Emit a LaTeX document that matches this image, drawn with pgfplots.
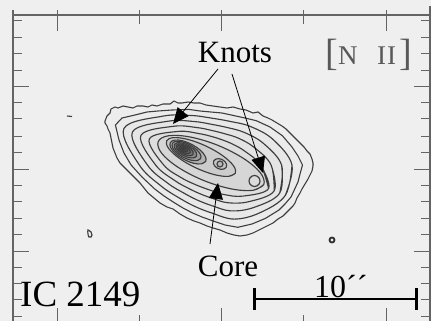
\documentclass[border=0pt]{standalone}
\usepackage{pgfplots}
\pgfplotsset{compat=1.18}
\usetikzlibrary{arrows.meta}
\usepackage{fontspec}
\setmainfont{Liberation Serif}
\definecolor{bg}{RGB}{239,239,239}
\definecolor{cl}{RGB}{62,62,62}
\definecolor{fr}{RGB}{100,100,100}
\pgfplotsset{cont/.style={smooth, tension=0.6, draw=cl, line width=1.15pt}}
\begin{document}
\begin{tikzpicture}[x=1pt,y=1pt]
\fill[bg] (0,0) rectangle (431,321);
\useasboundingbox (0,0) rectangle (431,321);
\begin{axis}[
  at={(13,3)}, anchor=south west,
  scale only axis, width=417pt, height=309pt,
  xmin=13, xmax=430, ymin=9, ymax=318, y dir=reverse,
  clip=false,
  axis line style={draw=fr, line width=1.1pt},
  tick align=inside,
  xtick={57,221,386}, minor xtick={139,303},
  ytick={81,163,245},
  minor ytick={15,32,48,65,97,113,130,146,179,195,212,228,261,277,293,310},
  xticklabels={}, yticklabels={},
  major tick length=16pt, minor tick length=9pt,
  every tick/.style={draw=fr, line width=1pt},
]
% frame overshoots at top
\addplot[draw=fr, line width=1pt] coordinates {(57,4) (57,9)};
\addplot[draw=fr, line width=1pt] coordinates {(139,4) (139,9)};
\addplot[draw=fr, line width=1pt] coordinates {(221,4) (221,9)};
\addplot[draw=fr, line width=1pt] coordinates {(303,4) (303,9)};
\addplot[draw=fr, line width=1pt] coordinates {(386,4) (386,9)};
\addplot[draw=fr, line width=1.1pt] coordinates {(13,4) (13,9)};
\addplot[draw=fr, line width=1.1pt] coordinates {(430,0) (430,9)};

% outermost contour (jagged)
\addplot[draw=cl, line width=1.1pt, fill=black!7] coordinates {
(105,115) (107,110) (110,107) (111,103) (115,101) (118,102) (123,100) (128,101)
(133,102) (137,100) (143,100) (148,101) (152,99) (157,100) (163,98) (170,98)
(174,95) (178,97) (182,97) (188,96) (194,97) (200,97) (206,99) (213,100)
(220,101) (227,102) (233,101) (240,103) (246,104) (253,107) (258,106) (263,110)
(268,112) (272,114) (277,117) (282,120) (286,123) (290,127) (294,131) (297,134)
(300,137) (304,141) (307,145) (310,148) (312,153) (313,157) (313,160) (312,165)
(310,169) (308,173) (305,178) (302,183) (300,187) (297,192) (295,197) (293,200)
(289,204) (286,207) (283,210) (278,213) (273,217) (267,220) (261,223) (257,225)
(253,227) (247,229) (240,230) (234,229) (227,227) (220,224) (213,222) (207,220)
(200,217) (194,215) (187,212) (180,208) (173,203) (167,201) (160,197) (154,192)
(148,187) (144,182) (140,177) (135,172) (130,167) (125,162) (120,157) (117,152)
(115,147) (113,142) (112,137) (111,132) (110,127) (108,123) (107,120) (105,117)
(105,115)};

% O2 (slightly jagged)
\addplot[draw=cl, line width=1.1pt, fill=black!8] coordinates {
(302.5,159) (300,168) (298,176) (291,191) (285,198) (279,204) (265.4,212.4) (252,218)
(237.8,221.3) (225,219) (212,214.6) (202,211) (192.2,206.8) (183,202) (174.3,196.7)
(164,190) (154.5,182.8) (142,171) (131.1,159) (124,147) (119,134) (115.4,119)
(122,112) (135,109) (147,106) (158,105) (172,104) (188.9,103.4) (200,105) (212,106.1)
(222,107) (232.6,109.3) (245,112) (256.3,114.7) (270,121) (282.5,129.8) (292,141)
(298,150) (302.5,159)};
% O3
\addplot[cont, fill=black!9] coordinates {
(292,159) (285.3,189.4) (259.8,206.8) (234.4,213.1) (212,207.1) (194.8,200.4)
(179.1,191.9) (161.2,180.1) (139.3,159) (123.9,122.5) (163.1,110.1) (191.5,109.5)
(212,112.2) (230.1,115.4) (250.5,120.5) (273.2,133.6) (292,159) (285.3,189.4)};
% O4
\addplot[cont, fill=black!10] coordinates {
(281.6,159) (279.7,187.1) (254.3,201.3) (231,204.9) (212,199.7) (197.4,194.1)
(183.9,187.1) (167.9,177.3) (147.4,159) (132.4,126) (168.2,115.2) (194,115.5)
(212,118.4) (227.5,121.6) (244.5,126.5) (263.7,137.6) (281.6,159) (279.7,187.1)};
% O5
\addplot[cont, fill=black!11] coordinates {
(271.1,159) (274.2,184.8) (248.7,195.7) (227.6,196.7) (212,192.2) (200.1,187.8)
(188.6,182.4) (174.7,174.5) (155.6,159) (140.9,129.5) (173.3,120.3) (196.5,121.5)
(212,124.5) (224.9,127.8) (238.7,132.3) (254.3,141.5) (271.1,159) (274.2,184.8)};
% O6
\addplot[cont, fill=black!13] coordinates {
(260.6,159) (268.6,182.5) (243.1,190.1) (224.3,188.6) (212,184.8) (202.7,181.5)
(193.3,177.7) (181.3,171.7) (163.7,159) (149.3,133) (178.4,125.4) (199,127.6)
(212,130.6) (222.4,133.9) (232.8,138.2) (245,145.3) (260.6,159) (268.6,182.5)};
% L: long contour around the knots
\addplot[cont, fill=black!16] coordinates {
(263.8,178.4) (253.2,184.3) (231.3,182.9) (203.9,174.6) (178.4,161.5) (161.7,147.3)
(158.2,135.6) (168.8,129.7) (190.7,131.1) (218.1,139.4) (243.6,152.5) (260.3,166.7)
(263.8,178.4) (253.2,184.3)};
% knot 3 ring
\addplot[cont, fill=black!14] coordinates {
(260,175) (259.3,177.75) (257.25,179.8) (254.5,180.5) (251.75,179.8) (249.7,177.75)
(249,175) (249.7,172.25) (251.75,170.2) (254.5,169.5) (257.25,170.2) (259.3,172.25)
(260,175) (259.3,177.75)};
% P0: peak + knot 2
\addplot[cont, fill=black!20] coordinates {
(235.4,167.1) (228.3,170.4) (213.8,168.5) (195.9,161.9) (179.4,152.4) (168.7,142.5)
(166.6,134.9) (173.7,131.6) (188.2,133.5) (206.1,140.1) (222.6,149.6) (233.3,159.5)
(235.4,167.1) (228.3,170.4)};
% knot 2 rings
\addplot[cont, fill=black!23] coordinates {
(226.3,161) (224.4,162.8) (221.3,163.4) (217.9,162.5) (215,160.4) (213.5,157.7)
(213.7,155) (215.6,153.2) (218.7,152.6) (222.1,153.5) (225,155.6) (226.6,158.3)
(226.3,161) (224.4,162.8)};
\addplot[cont, fill=black!28] coordinates {
(223,158) (222.1,160.1) (220,161) (217.9,160.1) (217,158) (217.9,155.9)
(220,155) (222.1,155.9) (223,158) (222.1,160.1)};
% peak contours
\addplot[cont, fill=black!30] coordinates {
(205.7,155.4) (201.3,157.9) (193.4,157.2) (184,153.5) (175.7,147.8) (170.7,141.6)
(170.3,136.6) (174.7,134.1) (182.6,134.8) (192,138.5) (200.3,144.2) (205.3,150.4)
(205.7,155.4) (201.3,157.9)};
\addplot[cont, fill=black!38] coordinates {
(200.6,152.5) (197.1,154.6) (190.7,154.1) (183.2,151.2) (176.6,146.6) (172.6,141.6)
(172.4,137.5) (175.9,135.4) (182.3,135.9) (189.8,138.8) (196.4,143.4) (200.4,148.4)
(200.6,152.5) (197.1,154.6)};
\addplot[cont, fill=black!46] coordinates {
(196.5,150.2) (193.8,151.8) (188.7,151.5) (182.9,149.2) (177.7,145.7) (174.6,141.7)
(174.5,138.4) (177.3,136.8) (182.3,137.1) (188.1,139.4) (193.3,143) (196.4,146.9)
(196.5,150.2) (193.8,151.8)};
\addplot[cont, fill=black!54] coordinates {
(193.1,148.3) (191,149.6) (187.2,149.3) (182.7,147.6) (178.8,144.9) (176.4,141.8)
(176.3,139.3) (178.4,138) (182.3,138.3) (186.7,140) (190.7,142.7) (193,145.8)
(193.1,148.3) (191,149.6)};
\addplot[cont, fill=black!62] coordinates {
(190.2,146.6) (188.6,147.6) (185.8,147.4) (182.5,146.1) (179.6,144.1) (177.9,141.9)
(177.8,140) (179.4,139) (182.2,139.2) (185.5,140.5) (188.4,142.5) (190.1,144.7)
(190.2,146.6) (188.6,147.6)};
\addplot[cont, fill=black!70] coordinates {
(187.6,145.1) (186.5,145.8) (184.7,145.7) (182.6,144.9) (180.7,143.6) (179.6,142.1)
(179.6,140.9) (180.7,140.2) (182.5,140.3) (184.6,141.1) (186.5,142.4) (187.6,143.9)
(187.6,145.1) (186.5,145.8)};
\addplot[cont, fill=black!80] coordinates {
(185.1,143.6) (183.8,143.9) (182,143) (181.5,141.8) (182.8,141.5) (184.6,142.4)
(185.1,143.6) (183.8,143.9)};

% isolated features
\addplot[draw=cl, line width=1.1pt] coordinates {(67,110) (72,110.5)};
\addplot[cont] coordinates {(88,224) (91,226) (92,229) (91,231) (89,231) (88,228) (88,224) (91,226)};
\addplot[smooth, draw=black!80, line width=1.8pt] coordinates {
(334.5,234) (333.8,235.8) (332,236.5) (330.2,235.8) (329.5,234) (330.2,232.2)
(332,231.5) (333.8,232.2) (334.5,234) (333.8,235.8)};

% arrows
\addplot[draw=black, line width=0.8pt, -{Triangle[length=16pt,width=14pt]}] coordinates {(218,63) (173,118)};
\addplot[draw=black, line width=0.8pt, -{Triangle[length=16pt,width=14pt]}] coordinates {(232,68) (263,167)};
\addplot[draw=black, line width=0.8pt, -{Triangle[length=16pt,width=14pt]}] coordinates {(210,238) (218,177)};

% scale bar
\addplot[draw=black, line width=1.2pt] coordinates {(254,293) (416,293)};
\addplot[draw=black, line width=3pt] coordinates {(254,282) (254,304)};
\addplot[draw=black, line width=3pt] coordinates {(416,282) (416,304)};

% labels
\node[inner sep=0, font=\fontsize{31}{31}\selectfont] at (axis cs:235,47) {Knots};
\node[inner sep=0, font=\fontsize{31}{31}\selectfont] at (axis cs:228,260) {Core};
\node[anchor=base west, inner sep=0, font=\fontsize{37}{37}\selectfont] at (axis cs:20,300) {IC 2149};
\node[anchor=base west, inner sep=0, font=\fontsize{32}{32}\selectfont] at (axis cs:314,291) {10´´};
\node[anchor=base west, inner sep=0, text=black!65, font=\fontsize{38}{38}\selectfont] at (axis cs:325,60) {[};
\node[anchor=base west, inner sep=0, text=black!65, font=\fontsize{27}{27}\selectfont] at (axis cs:338,59) {N};
\node[anchor=base west, inner sep=0, text=black!65, font=\fontsize{27}{27}\selectfont] at (axis cs:377,59) {I\kern1ptI};
\node[anchor=base east, inner sep=0, text=black!65, font=\fontsize{38}{38}\selectfont] at (axis cs:412,60) {]};
\end{axis}
\end{tikzpicture}
\end{document}
